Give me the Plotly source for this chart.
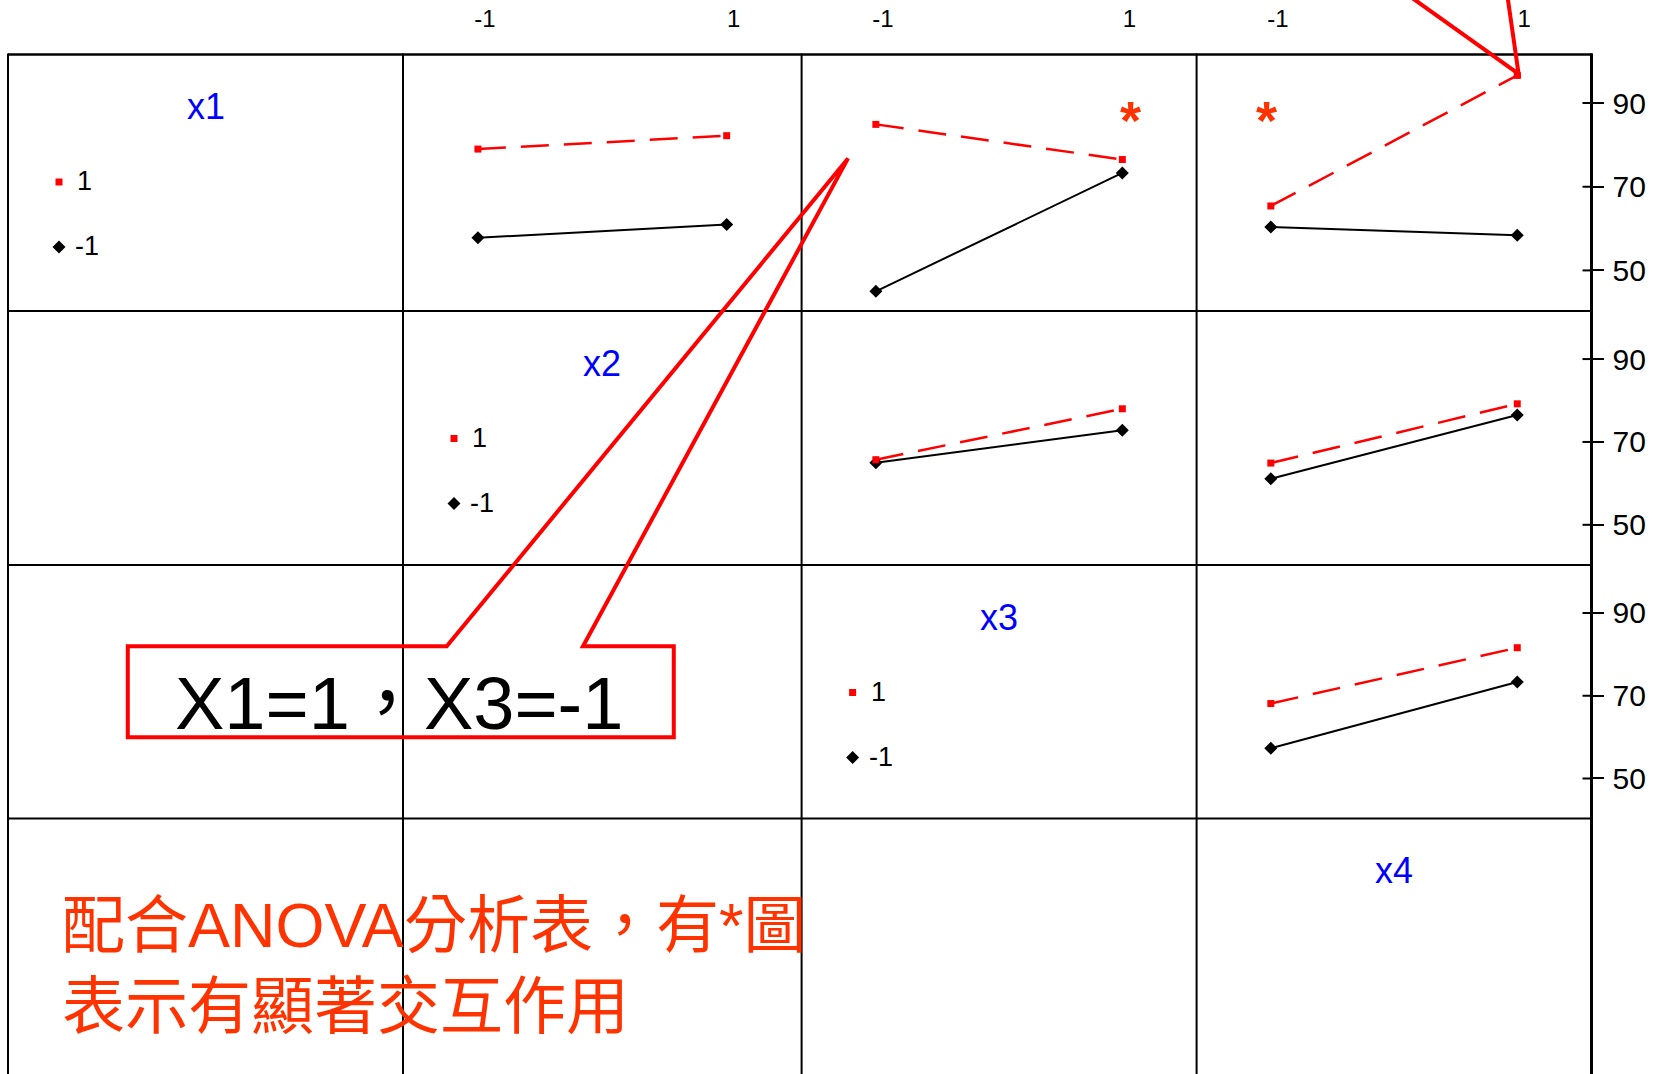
import plotly.graph_objects as go

W, H = 1656, 1074

# ---- data -------------------------------------------------------------
factors = ["x1", "x2", "x3", "x4"]
levels = [-1, 1]
level_labels = ["-1", "1"]
y_ticks = [50, 70, 90]
y_tick_labels = ["50", "70", "90"]

# mean response at column factor = -1, 1 ; "hi" = row factor at 1, "lo" = row factor at -1
x1x2_hi = [79.0, 82.2]
x1x2_lo = [57.8, 61.0]
x1x3_hi = [84.9, 76.5]
x1x3_lo = [45.0, 73.3]
x1x4_hi = [65.4, 96.6]
x1x4_lo = [60.4, 58.4]
x2x3_hi = [65.7, 78.0]
x2x3_lo = [65.0, 72.8]
x2x4_hi = [64.9, 79.2]
x2x4_lo = [61.1, 76.5]
x3x4_hi = [68.1, 81.6]
x3x4_lo = [57.3, 73.3]

# pairs flagged as significant interactions in the ANOVA table
significant_pairs = [(1, 3), (1, 4)]

note_line1 = "配合ANOVA分析表，有*圖"
note_line2 = "表示有顯著交互作用"
callout_text = "X1=1，X3=-1"

# ---- layout geometry (pixels) ------------------------------------------
col_edges = [8, 403, 801.6, 1196.6, 1591.5]
row_edges = [54.5, 311, 565, 818.5, 1074]
x_range = [-1.6025, 1.6025]
y_range = [40.3, 101.6]

RED = "#ff0000"
NOTE = "#ff3300"
FONT = "Arial, Liberation Sans, sans-serif"


def px(x):
    return x / W


def py(y):
    return 1 - y / H


def label(text, x, y, size, color="black", family=FONT, xanchor="center"):
    return dict(text=text, x=px(x), y=py(y), xref="paper", yref="paper",
                xanchor=xanchor, yanchor="middle", showarrow=False,
                font=dict(family=family, size=size, color=color))


panels = [
    (1, 2, x1x2_hi, x1x2_lo),
    (1, 3, x1x3_hi, x1x3_lo),
    (1, 4, x1x4_hi, x1x4_lo),
    (2, 3, x2x3_hi, x2x3_lo),
    (2, 4, x2x4_hi, x2x4_lo),
    (3, 4, x3x4_hi, x3x4_lo),
]

fig = go.Figure()
shapes = []
annotations = []

for k, (r, c, hi, lo) in enumerate(panels, start=1):
    xa, ya = f"x{k}", f"y{k}"
    fig.add_trace(go.Scatter(
        x=levels, y=lo, xaxis=xa, yaxis=ya, mode="lines+markers",
        line=dict(color="black", width=2),
        marker=dict(symbol="diamond", size=10, color="black"),
        cliponaxis=False, hoverinfo="skip"))
    fig.add_trace(go.Scatter(
        x=levels, y=hi, xaxis=xa, yaxis=ya, mode="lines+markers",
        line=dict(color=RED, width=2.5, dash="28px,15px"),
        marker=dict(symbol="square", size=7, color=RED),
        cliponaxis=False, hoverinfo="skip"))

    xdom = [px(col_edges[c - 1]), px(col_edges[c])]
    ydom = [py(row_edges[r]), py(row_edges[r - 1])]
    top_row = r == 1
    right_col = c == 4
    fig.layout[f"xaxis{k}"] = dict(
        domain=xdom, range=x_range, anchor=ya, fixedrange=True,
        showgrid=False, zeroline=False, showline=False,
        side="top", tickvals=levels, ticktext=level_labels,
        showticklabels=top_row, ticks="",
        ticklabelstandoff=22, ticklabelshift=7,
        tickfont=dict(family="Liberation Sans Narrow, Arial Narrow, " + FONT,
                      size=24, color="black"))
    fig.layout[f"yaxis{k}"] = dict(
        domain=ydom, range=y_range, anchor=xa, fixedrange=True,
        showgrid=False, zeroline=False, showline=False,
        side="right", tickvals=y_ticks, ticktext=y_tick_labels,
        showticklabels=right_col,
        ticks="outside" if right_col else "", ticklen=11, tickwidth=2,
        tickcolor="black", ticklabelstandoff=3,
        tickfont=dict(family=FONT, size=30, color="black"))
    if right_col:
        # inner half of the crossing tick marks
        for v in y_ticks:
            shapes.append(dict(type="line", xref=f"{xa} domain", yref=ya,
                               x0=1 - 9 / (col_edges[4] - col_edges[3]), x1=1,
                               y0=v, y1=v, line=dict(color="black", width=2)))
    if (r, c) in significant_pairs:
        ax_x = 1130 if c == 3 else 1266
        annotations.append(label("<b>*</b>", ax_x, 120, 54, NOTE))

# diagonal cells: factor name and legend for the row factor
leg_ax = len(panels) + 1
hi_x, hi_y, lo_x, lo_y = [], [], [], []
for i, name in enumerate(factors):
    left, top = col_edges[i], row_edges[i]
    right = col_edges[i + 1]
    annotations.append(label(name, (left + right) / 2, top + 52, 36, "blue"))
    if i < 3:
        hi_x.append(left + 51)
        hi_y.append(top + 127.5)
        lo_x.append(left + 51)
        lo_y.append(top + 192.5)
        annotations.append(label("1", left + 67, top + 127, 27, xanchor="left"))
        annotations.append(label("-1", left + 65, top + 192, 27, xanchor="left"))

fig.add_trace(go.Scatter(
    x=hi_x, y=hi_y, xaxis=f"x{leg_ax}", yaxis=f"y{leg_ax}", mode="markers",
    marker=dict(symbol="square", color=RED, size=7),
    cliponaxis=False, hoverinfo="skip"))
fig.add_trace(go.Scatter(
    x=lo_x, y=lo_y, xaxis=f"x{leg_ax}", yaxis=f"y{leg_ax}", mode="markers",
    marker=dict(symbol="diamond", color="black", size=10),
    cliponaxis=False, hoverinfo="skip"))
fig.layout[f"xaxis{leg_ax}"] = dict(domain=[0, 1], range=[0, W], visible=False,
                                    anchor=f"y{leg_ax}", fixedrange=True)
fig.layout[f"yaxis{leg_ax}"] = dict(domain=[0, 1], range=[H, 0], visible=False,
                                    anchor=f"x{leg_ax}", fixedrange=True)

# cell grid
for n, x in enumerate(col_edges):
    shapes.append(dict(type="line", xref="paper", yref="paper",
                       x0=px(x), x1=px(x), y0=py(row_edges[0] - 1), y1=py(H + 10),
                       line=dict(color="black", width=3 if n == 4 else 2)))
for n, y in enumerate(row_edges[:4]):
    shapes.append(dict(type="line", xref="paper", yref="paper",
                       x0=px(col_edges[0]), x1=px(col_edges[4] + 1),
                       y0=py(y), y1=py(y),
                       line=dict(color="black", width=2.5 if n == 0 else 2)))


def path(points, close=True):
    d = "M " + " L ".join(f"{px(x):.5f},{py(y):.5f}" for x, y in points)
    return d + (" Z" if close else "")


# callout pointing at the x1=1, x3=-1 combination
shapes.append(dict(type="path", xref="paper", yref="paper",
                   path=path([(127.8, 646.3), (446.7, 646.3), (848, 158.4),
                              (583, 646.3), (673.8, 646.3), (673.8, 737.2),
                              (127.8, 737.2)]),
                   line=dict(color=RED, width=4)))
# second callout pointer coming from above the frame
shapes.append(dict(type="path", xref="paper", yref="paper",
                   path=path([(1373, -30), (1518.6, 74), (1503.7, -30)], close=False),
                   line=dict(color=RED, width=4)))

annotations.append(label(callout_text, 399, 703, 74,
                         family=FONT + ", Noto Sans CJK TC"))
annotations.append(label(note_line1, 60, 925, 63, NOTE,
                         family="Liberation Sans, Noto Sans CJK TC", xanchor="left"))
annotations.append(label(note_line2, 60, 1000, 63, NOTE,
                         family="Noto Sans CJK TC", xanchor="left"))

fig.update_layout(width=W, height=H, margin=dict(l=0, r=0, t=0, b=0),
                  paper_bgcolor="white", plot_bgcolor="rgba(0,0,0,0)",
                  showlegend=False, shapes=shapes, annotations=annotations)

fig.write_html("out.html")
